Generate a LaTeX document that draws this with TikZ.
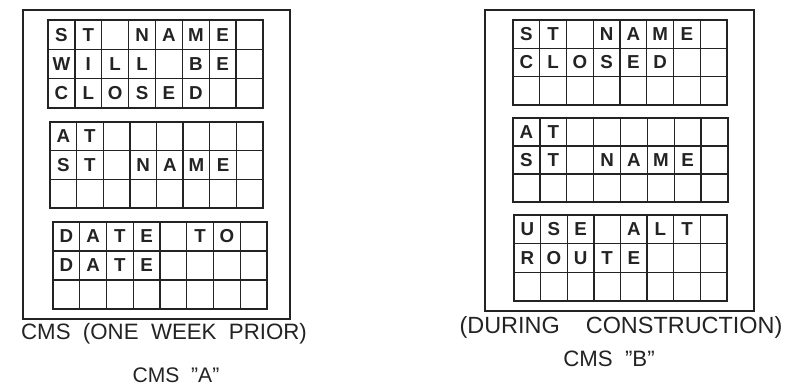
\documentclass[tikz,border=0pt]{standalone}
\usepackage{fontspec}
\setmainfont{Liberation Sans}
\usetikzlibrary{positioning}
\definecolor{cmsink}{RGB}{35,35,35}
\tikzset{
    panel/.style={draw=cmsink,line width=1.9pt},
    gridline/.style={draw=cmsink,line width=1.2pt},
    letter/.style={inner sep=0pt,text=cmsink,font=\fontsize{16}{16}\selectfont\bfseries},
    caption/.style={inner sep=0pt,text=cmsink,font=\fontsize{#1}{#1}\selectfont},
    caption/.default=19
}
\begin{document}
\begin{tikzpicture}[x=0.03cm,y=-0.03cm]
\useasboundingbox (0,0) rectangle (787,385);

% outer panels
\draw[panel] (23,10) rectangle (290,319);
\draw[panel] (485,10) rectangle (754,311);

% message grids, 3 rows x 8 columns
\foreach \g/\xa/\ya/\xb/\yb in {a1/48/20/263/108,a2/50/122/263/208,a3/53/222/267/309,
                                b1/513/20/727/105,b2/513/118/728/202,b3/514/215/727/301}{
  \draw[gridline] (\xa,\ya) rectangle (\xb,\yb);
  \foreach \i in {1,...,7}
    \draw[gridline] ({\xa+\i*(\xb-\xa)/8},\ya) -- ({\xa+\i*(\xb-\xa)/8},\yb);
  \foreach \j in {1,2}
    \draw[gridline] (\xa,{\ya+\j*(\yb-\ya)/3}) -- (\xb,{\ya+\j*(\yb-\ya)/3});
  \foreach \r in {1,2,3}
    \foreach \c in {1,...,8}
      \coordinate (\g-\r-\c) at ({\xa+(\c-0.5)*(\xb-\xa)/8},{\ya+(\r-0.5)*(\yb-\ya)/3});
}

% CMS "A"
\foreach \c/\t in {1/S,2/T,4/N,5/A,6/M,7/E} \node[letter] (a1-1-\c-t) at (a1-1-\c) {\t};
\foreach \c/\t in {1/W,2/I,3/L,4/L,6/B,7/E} \node[letter] (a1-2-\c-t) at (a1-2-\c) {\t};
\foreach \c/\t in {1/C,2/L,3/O,4/S,5/E,6/D} \node[letter] (a1-3-\c-t) at (a1-3-\c) {\t};
\foreach \c/\t in {1/A,2/T} \node[letter] (a2-1-\c-t) at (a2-1-\c) {\t};
\foreach \c/\t in {1/S,2/T,4/N,5/A,6/M,7/E} \node[letter] (a2-2-\c-t) at (a2-2-\c) {\t};
\foreach \c/\t in {1/D,2/A,3/T,4/E,6/T,7/O} \node[letter] (a3-1-\c-t) at (a3-1-\c) {\t};
\foreach \c/\t in {1/D,2/A,3/T,4/E} \node[letter] (a3-2-\c-t) at (a3-2-\c) {\t};

% CMS "B"
\foreach \c/\t in {1/S,2/T,4/N,5/A,6/M,7/E} \node[letter] (b1-1-\c-t) at (b1-1-\c) {\t};
\foreach \c/\t in {1/C,2/L,3/O,4/S,5/E,6/D} \node[letter] (b1-2-\c-t) at (b1-2-\c) {\t};
\foreach \c/\t in {1/A,2/T} \node[letter] (b2-1-\c-t) at (b2-1-\c) {\t};
\foreach \c/\t in {1/S,2/T,4/N,5/A,6/M,7/E} \node[letter] (b2-2-\c-t) at (b2-2-\c) {\t};
\foreach \c/\t in {1/U,2/S,3/E,5/A,6/L,7/T} \node[letter] (b3-1-\c-t) at (b3-1-\c) {\t};
\foreach \c/\t in {1/R,2/O,3/U,4/T,5/E} \node[letter] (b3-2-\c-t) at (b3-2-\c) {\t};

% captions
\node[caption] (capa) at (164,334) {CMS~~(ONE~~WEEK~~PRIOR)};
\node[caption=18] (capaname) at (176,375) {CMS~~"A"};
\node[caption=20] (capb) at (621,327) {(DURING~~~~CONSTRUCTION)};
\node[caption] (capbname) at (609,359) {CMS~~"B"};

\end{tikzpicture}
\end{document}
